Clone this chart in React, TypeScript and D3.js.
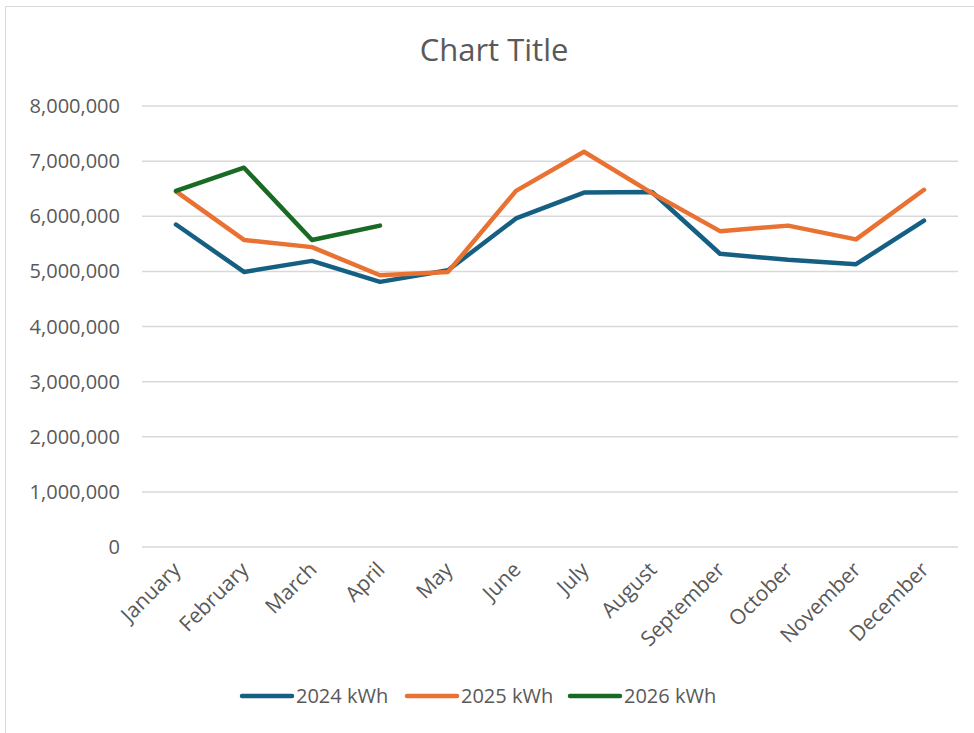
import React from 'react';
import * as d3 from 'd3';

const months = ['January', 'February', 'March', 'April', 'May', 'June', 'July', 'August', 'September', 'October', 'November', 'December'];
const kwh2024 = [5850000, 4990000, 5190000, 4810000, 5020000, 5960000, 6430000, 6440000, 5320000, 5210000, 5130000, 5920000];
const kwh2025 = [6450000, 5570000, 5440000, 4930000, 4990000, 6460000, 7170000, 6420000, 5730000, 5830000, 5580000, 6480000];
const kwh2026 = [6460000, 6880000, 5570000, 5830000];
const yTicks = [0, 1000000, 2000000, 3000000, 4000000, 5000000, 6000000, 7000000, 8000000];

const series = [
  { name: '2024 kWh', values: kwh2024, color: '#156082' },
  { name: '2025 kWh', values: kwh2025, color: '#E97132' },
  { name: '2026 kWh', values: kwh2026, color: '#196B24' },
];

const W = 974;
const H = 733;
const font = '"Open Sans", "Liberation Sans", sans-serif';
const textColor = '#595959';

export default function App() {
  const x = d3.scaleBand().domain(months).range([142, 958]);
  const y = d3.scaleLinear().domain([0, 8000000]).range([547, 106]);
  const fmt = d3.format(',');
  const line = d3
    .line<number>()
    .x((_, i) => (x(months[i]) as number) + x.bandwidth() / 2)
    .y(d => y(d));

  const legendX = [240, 405, 568];

  return (
    <div style={{ position: 'absolute', left: 0, top: 0 }}>
      <svg width={W} height={H} style={{ display: 'block', background: '#fff' }}>
        <rect x={5.5} y={6.5} width={990} height={760} fill="#fff" stroke="#d9d9d9" />
        <text x={494} y={61} textAnchor="middle" fontFamily={font} fontSize={31} fill={textColor}>
          Chart Title
        </text>
        {yTicks.map(t => (
          <g key={t}>
            <line x1={142} x2={958} y1={y(t)} y2={y(t)} stroke="#d9d9d9" strokeWidth={1.5} />
            <text x={120} y={y(t)} dy="0.35em" textAnchor="end" fontFamily={font} fontSize={20} fill={textColor}>
              {fmt(t)}
            </text>
          </g>
        ))}
        {months.map(m => {
          const cx = (x(m) as number) + x.bandwidth() / 2;
          return (
            <text
              key={m}
              transform={`translate(${cx + 6},${571}) rotate(-45)`}
              textAnchor="end"
              fontFamily={font}
              fontSize={21}
              fill={textColor}
            >
              {m}
            </text>
          );
        })}
        {series.map(s => (
          <path
            key={s.name}
            d={line(s.values) || ''}
            fill="none"
            stroke={s.color}
            strokeWidth={4.5}
            strokeLinejoin="round"
            strokeLinecap="round"
          />
        ))}
        {series.map((s, i) => (
          <g key={s.name} transform={`translate(${legendX[i]},696)`}>
            <line x1={2} x2={52} y1={0} y2={0} stroke={s.color} strokeWidth={4.5} strokeLinecap="round" />
            <text x={56} y={0} dy="0.35em" fontFamily={font} fontSize={20} fill={textColor}>
              {s.name}
            </text>
          </g>
        ))}
      </svg>
    </div>
  );
}
